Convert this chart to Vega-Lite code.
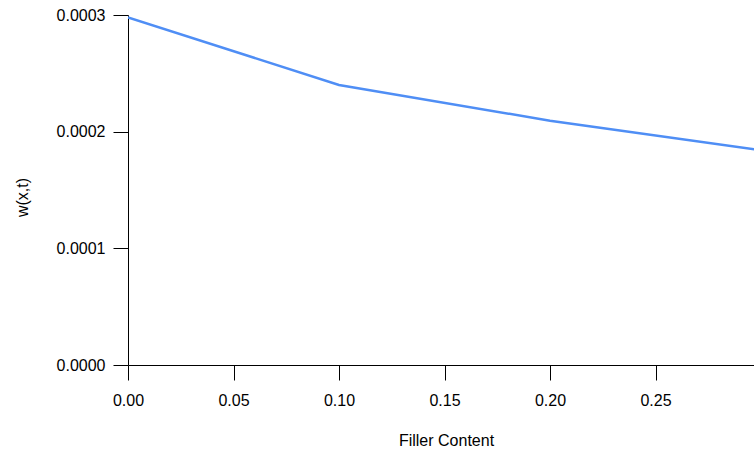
{
  "$schema": "https://vega.github.io/schema/vega-lite/v6.json",
  "autosize": "none",
  "padding": {"left": 128, "top": 15, "right": 0, "bottom": 90},
  "width": 626,
  "height": 350,
  "background": "white",
  "config": {
    "view": {"stroke": null},
    "font": "Liberation Sans",
    "axis": {
      "grid": false,
      "domainColor": "#000000",
      "tickColor": "#000000",
      "labelColor": "#000000",
      "titleColor": "#000000",
      "labelFont": "Liberation Sans",
      "titleFont": "Liberation Sans",
      "titleFontWeight": "normal",
      "labelFontSize": 16,
      "titleFontSize": 16,
      "tickSize": 15,
      "labelPadding": 8,
      "labelFlush": false,
      "labelOverlap": false
    }
  },
  "data": {
    "values": [
      {"filler": 0.0, "w": 0.000298},
      {"filler": 0.1, "w": 0.00024},
      {"filler": 0.2, "w": 0.0002094},
      {"filler": 0.3, "w": 0.000184}
    ]
  },
  "mark": {"type": "line", "color": "#4f8ef5", "strokeWidth": 2.5, "clip": true},
  "encoding": {
    "x": {
      "field": "filler",
      "type": "quantitative",
      "scale": {"domain": [0, 0.29668], "nice": false, "zero": false},
      "axis": {"title": "Filler Content", "values": [0, 0.05, 0.1, 0.15, 0.2, 0.25], "format": ".2f", "labelPadding": 12, "titleX": 318, "titleY": 80, "titleBaseline": "alphabetic"}
    },
    "y": {
      "field": "w",
      "type": "quantitative",
      "scale": {"domain": [0, 0.0003], "nice": false},
      "axis": {"title": "w(x,t)", "values": [0, 0.0001, 0.0002, 0.0003], "format": ".4f", "titleX": -101, "titleY": 182, "titleBaseline": "alphabetic"}
    }
  }
}
